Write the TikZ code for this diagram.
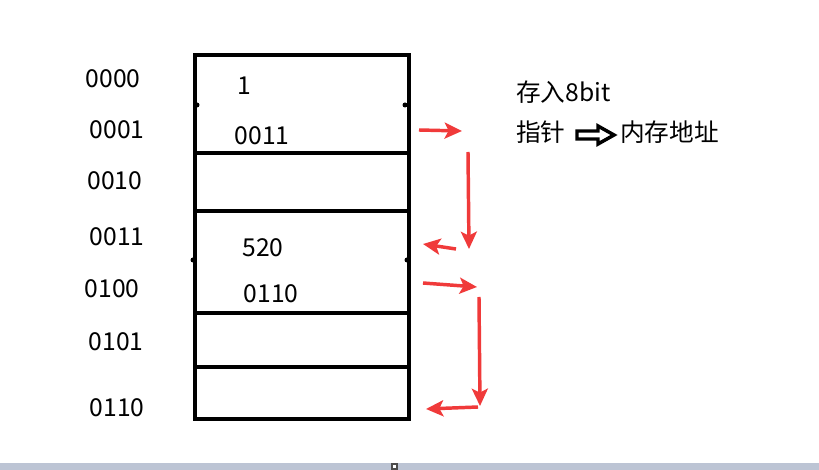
\documentclass[tikz,border=0pt]{standalone}
\usepackage{fontspec}
\setmainfont{Noto Sans CJK SC}
\usetikzlibrary{arrows.meta}

\definecolor{arrowred}{HTML}{F03A3A}
\definecolor{barblue}{HTML}{BCC4D4}

\tikzset{
    lbl/.style={font=\fontsize{18.5pt}{20pt}\selectfont, inner sep=0pt},
    memline/.style={line width=3.5pt},
    redarrow/.style={arrowred, line width=2.6pt, -{Stealth[length=13pt, width=12pt, inset=3pt]}},
}

\begin{document}
\begin{tikzpicture}[x=0.75pt, y=-0.75pt]
    \useasboundingbox (0, 0) rectangle (819, 470);
    \fill[white] (0, 0) rectangle (819, 470);

    % memory block
    \draw[memline, line join=miter] (195, 55) rectangle (409, 419);
    \foreach \y in {153, 211, 313, 367}
        \draw[memline] (193, \y) -- (409, \y);
    \foreach \x/\y in {197/105, 405/105, 193/260, 407/260}
        \fill (\x, \y) circle (2.5);

    % addresses
    \foreach \x/\y/\t in {113/79/0000, 117/130/0001, 115/181/0010, 117/237/0011, 112/289/0100, 116/342/0101, 117/408/0110}
        \node[lbl] (adr\t) at (\x, \y) {\t};

    % contents
    \node[lbl] (val1) at (244, 86) {1};
    \node[lbl] (ptr1) at (262, 136) {0011};
    \node[lbl] (val2) at (263, 248) {520};
    \node[lbl] (ptr2) at (271, 294) {0110};

    % legend
    \node[lbl, anchor=west] (store) at (516, 92) {存入8bit};
    \node[lbl, anchor=west] (pointer) at (516, 132) {指针};
    \draw[line width=2.6pt, line join=miter] (577, 131) -- (598, 131) -- (598, 126) -- (614, 135) -- (598, 144) -- (598, 139) -- (577, 139) -- cycle;
    \node[lbl, anchor=west] (address) at (620, 132) {内存地址};

    % pointer arrows
    \coordinate (a1s) at (419, 130); \coordinate (a1e) at (462, 131);
    \coordinate (a2s) at (468, 152); \coordinate (a2e) at (469, 249);
    \coordinate (a3s) at (456, 249); \coordinate (a3e) at (423, 244);
    \coordinate (a4s) at (423, 283); \coordinate (a4e) at (477, 287);
    \coordinate (a5s) at (479, 297); \coordinate (a5e) at (480, 406);
    \coordinate (a6s) at (478, 407); \coordinate (a6e) at (426, 409);
    \foreach \i in {1, ..., 6}
        \draw[redarrow] (a\i s) -- (a\i e);

    % window bar
    \fill[barblue] (0, 463) rectangle (819, 470);
    \draw[fill=white, line width=0.8pt, draw=black!70] (392, 464) rectangle (397, 469);
\end{tikzpicture}
\end{document}
